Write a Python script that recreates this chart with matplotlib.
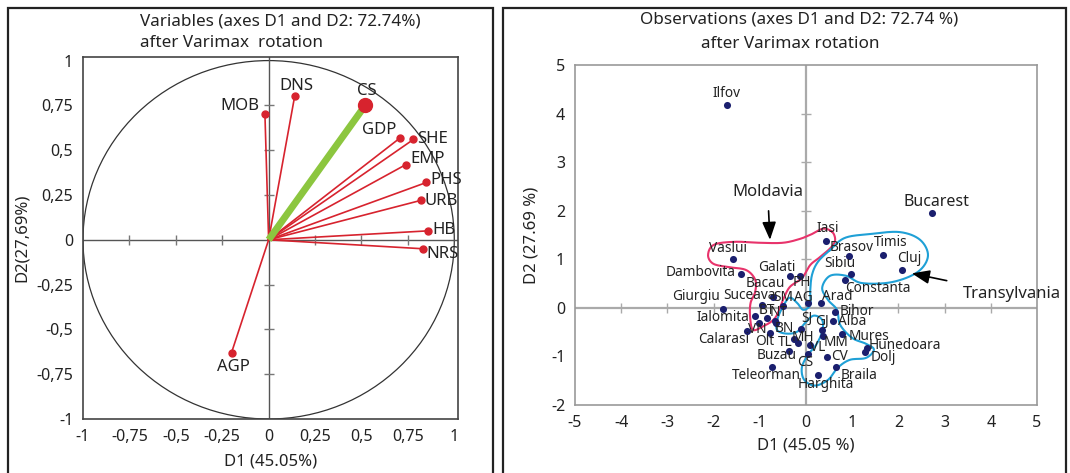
import numpy as np
import matplotlib
matplotlib.use("Agg")
import matplotlib.pyplot as plt
from matplotlib.patches import Circle, Rectangle

plt.rcParams['font.family'] = ['Noto Sans', 'DejaVu Sans']
plt.rcParams['axes.unicode_minus'] = False

# ---------------- data: variables (loadings) ----------------
var_names = ["MOB", "DNS", "GDP", "SHE", "EMP", "PHS", "URB", "HB", "NRS", "AGP"]
var_x = [-0.02, 0.14, 0.71, 0.78, 0.74, 0.85, 0.82, 0.86, 0.83, -0.20]
var_y = [0.70, 0.80, 0.57, 0.56, 0.42, 0.32, 0.22, 0.05, -0.05, -0.63]
# label offsets (pixels) and alignment
var_lab_dx = [-6, 2, -4, 4, 4, 4, 4, 4, 4, 2]
var_lab_dy = [8, 10, 8, 0, 6, 2, -1, 1, -5, -14]
var_lab_ha = ["right", "center", "right", "left", "left", "left", "left", "left", "left", "center"]
cs_name = "CS"
cs_x, cs_y = 0.52, 0.75

left_ticks = [-1, -0.75, -0.5, -0.25, 0, 0.25, 0.5, 0.75, 1]
left_ticklabels = ["-1", "-0,75", "-0,5", "-0,25", "0", "0,25", "0,5", "0,75", "1"]

# ---------------- data: observations (scores) ----------------
obs_names = ["Ilfov", "Bucarest", "Cluj", "Timis", "Brasov", "Sibiu", "Constanta", "Iasi",
             "Vaslui", "Dambovita", "Galati", "PH", "Bacau", "Suceava", "Giurgiu", "SM",
             "AG", "Arad", "Bihor", "Alba", "Ialomita", "BT", "NT", "VN", "Calarasi",
             "Olt", "BN", "SJ", "GJ", "MM", "TL", "MH", "Buzau", "Teleorman", "VL",
             "CS", "CV", "Mures", "Hunedoara", "Dolj", "Braila", "Harghita"]
obs_x = [-1.72, 2.72, 2.08, 1.67, 0.94, 0.97, 0.84, 0.43,
         -1.59, -1.41, -0.35, -0.13, -0.71, -0.96, -1.79, -0.49,
         0.05, 0.32, 0.63, 0.58, -1.10, -0.85, -0.67, -1.01, -1.28,
         -0.78, -0.65, -0.11, 0.34, 0.37, -0.26, -0.17, -0.36, -0.74, 0.09,
         0.05, 0.46, 0.77, 1.31, 1.28, 0.66, 0.27]
obs_y = [4.18, 1.95, 0.78, 1.09, 1.06, 0.70, 0.58, 1.38,
         1.01, 0.70, 0.66, 0.66, 0.23, 0.06, -0.03, 0.03,
         0.10, 0.11, -0.08, -0.28, -0.16, -0.21, -0.28, -0.31, -0.47,
         -0.51, -0.31, -0.44, -0.45, -0.58, -0.65, -0.73, -0.88, -1.22, -0.76,
         -0.95, -1.01, -0.53, -0.82, -0.91, -1.22, -1.38]
obs_dx = [0, 5, 7, 8, 2, -11, 33, 2,
          -5, -40, -13, 2, -8, -12, -27, 0,
          -5, 16, 22, 19, -32, 0, 4, -2, -23,
          -5, 8, 6, 0, 13, -9, 5, -13, -5, 8,
          -3, 12, 27, 38, 18, 23, 7]
obs_dy = [11, 11, 11, 12, 9, 10, -9, 12,
          10, 1, 8, -7, 13, 9, 13, 9,
          6, 6, 0, 0, -2, 8, 9, -7, -9,
          -9, -6, 11, 8, -6, -3, 6, -5, -8, -3,
          -8, 0, -3, 2, -5, -8, -10]

right_xticks = [-5, -4, -3, -2, -1, 0, 1, 2, 3, 4, 5]
right_yticks = [-2, -1, 0, 1, 2, 3, 4, 5]

# region outlines (data units)
moldavia_x = [0.56, 0.37, 0.13, -0.13, -0.50, -1.00, -1.54, -1.99, -2.12, -2.01, -1.69, -1.30,
              -1.10, -1.10, -1.20, -1.21, -1.15, -0.95, -0.67, -0.50, -0.35, -0.09, 0.09,
              0.27, 0.45, 0.59, 0.63]
moldavia_y = [1.57, 1.63, 1.52, 1.42, 1.34, 1.34, 1.36, 1.30, 1.09, 0.91, 0.84, 0.78,
              0.58, 0.33, 0.10, -0.19, -0.45, -0.39, -0.21, 0.16, 0.43, 0.61, 0.88,
              1.02, 1.16, 1.30, 1.43]
transyl_x = [0.52, 0.84, 1.39, 2.03, 2.47, 2.64, 2.42, 1.86, 1.21, 0.87, 0.52, 0.35, 0.48,
             0.67, 0.74, 1.00, 1.30, 1.47, 1.30, 0.95, 0.69, 0.48, 0.19, -0.04, -0.09,
             0.04, 0.22, 0.35, 0.35, 0.17, 0.00, -0.19, -0.43, -0.63, -0.61, -0.48,
             -0.35, -0.19, -0.06, 0.09, 0.09, 0.13, 0.26]
transyl_y = [1.19, 1.44, 1.52, 1.56, 1.40, 1.07, 0.74, 0.53, 0.51, 0.66, 0.66, 0.41, 0.16,
             -0.04, -0.35, -0.62, -0.74, -0.86, -1.03, -1.07, -1.23, -1.48, -1.60, -1.48,
             -1.23, -0.97, -0.76, -0.49, -0.25, -0.16, -0.29, -0.49, -0.53, -0.45, -0.21,
             0.06, 0.21, 0.10, -0.04, 0.06, 0.33, 0.68, 0.95]


def closed_smooth(xs, ys, n=16):
    P = np.column_stack([xs, ys]).astype(float)
    N = len(P)
    t = np.linspace(0, 1, n, endpoint=False)[:, None]
    segs = []
    for i in range(N):
        p0, p1, p2, p3 = P[i - 1], P[i], P[(i + 1) % N], P[(i + 2) % N]
        segs.append(0.5 * (2 * p1 + (-p0 + p2) * t + (2 * p0 - 5 * p1 + 4 * p2 - p3) * t ** 2
                           + (-p0 + 3 * p1 - 3 * p2 + p3) * t ** 3))
    out = np.vstack(segs + [segs[0][:1]])
    return out[:, 0], out[:, 1]


W, H = 1070, 473
fig = plt.figure(figsize=(W / 100, H / 100), dpi=100)

# panel boxes
for (x0, x1) in [(8, 493), (503, 1066)]:
    fig.add_artist(Rectangle((x0 / W, -0.05), (x1 - x0) / W, 1 - 8 / H + 0.05,
                             transform=fig.transFigure, fill=False, lw=1.6, ec='#222222'))

red = '#d7232e'

# ---------------- left panel ----------------
axL = fig.add_axes([83 / W, 1 - 419 / H, (458 - 83) / W, (419 - 57) / H])
axL.set_xlim(-1.0, 1.02)
axL.set_ylim(-1.0, 1.02)
axL.add_patch(Circle((0, 0), 1, fill=False, lw=0.9, ec='#333333'))
axL.axhline(0, color='#555555', lw=1.0, zorder=1)
axL.axvline(0, color='#555555', lw=1.0, zorder=1)
minor = [t for t in left_ticks if t not in (-1, 0, 1)]
axL.plot(minor, [0] * len(minor), ls='none', marker='|', ms=7, mew=1.0, color='#777777')
axL.plot([0] * len(minor), minor, ls='none', marker='_', ms=7, mew=1.0, color='#777777')
for i, nm in enumerate(var_names):
    axL.plot([0, var_x[i]], [0, var_y[i]], color=red, lw=1.2, zorder=3)
    axL.plot(var_x[i], var_y[i], 'o', color=red, ms=5, zorder=4)
    axL.annotate(nm, (var_x[i], var_y[i]), xytext=(var_lab_dx[i], var_lab_dy[i]),
                 textcoords='offset pixels', ha=var_lab_ha[i], va='center', fontsize=12,
                 color='#222222')
axL.plot([0, cs_x], [0, cs_y], color='#8cc63f', lw=5, zorder=3, solid_capstyle='butt')
axL.plot(cs_x, cs_y, 'o', color=red, ms=10, zorder=5)
axL.annotate(cs_name, (cs_x, cs_y), xytext=(2, 14), textcoords='offset pixels',
             ha='center', va='center', fontsize=12, color='#222222')
axL.set_xticks(left_ticks)
axL.set_xticklabels(left_ticklabels)
axL.set_yticks(left_ticks)
axL.set_yticklabels(left_ticklabels)
axL.tick_params(length=0, labelsize=11.5, pad=7, colors='#222222')
for s in axL.spines.values():
    s.set_color('#444444')
    s.set_linewidth(1.2)
axL.set_xlabel("D1 (45.05%)", fontsize=12, labelpad=6, color='#222222')
axL.set_ylabel("D2(27,69%)", fontsize=12, labelpad=5, color='#222222')
fig.text(140 / W, 1 - 21 / H, "Variables (axes D1 and D2: 72.74%)", ha='left', va='center',
         fontsize=12.3, color='#222222')
fig.text(140 / W, 1 - 43 / H, "after Varimax  rotation", ha='left', va='center',
         fontsize=12.3, color='#222222')

# ---------------- right panel ----------------
axR = fig.add_axes([575 / W, 1 - 405 / H, (1037 - 575) / W, (405 - 65) / H])
axR.set_xlim(-5, 5)
axR.set_ylim(-2, 5)
axR.axhline(0, color='#aaaaaa', lw=1.6, zorder=1)
axR.axvline(0, color='#aaaaaa', lw=1.6, zorder=1)
xm = [t for t in right_xticks if t not in (-5, 0, 5)]
ym = [t for t in right_yticks if t not in (-2, 0, 5)]
axR.plot(xm, [0] * len(xm), ls='none', marker='|', ms=7, mew=1.0, color='#aaaaaa')
axR.plot([0] * len(ym), ym, ls='none', marker='_', ms=7, mew=1.0, color='#aaaaaa')
mx, my = closed_smooth(moldavia_x, moldavia_y)
axR.plot(mx, my, color='#e8336b', lw=1.5, zorder=2)
tx, ty = closed_smooth(transyl_x, transyl_y)
axR.plot(tx, ty, color='#1fa0d6', lw=1.5, zorder=2)
axR.scatter(obs_x, obs_y, s=26, color='#1b1f6e', zorder=4, linewidths=0)
for i, nm in enumerate(obs_names):
    fs = 11.5 if nm == "Bucarest" else 9.8
    axR.annotate(nm, (obs_x[i], obs_y[i]), xytext=(obs_dx[i], obs_dy[i]),
                 textcoords='offset pixels', ha='center', va='center', fontsize=fs,
                 color='#222222', zorder=5)
axR.annotate("Moldavia", xy=(-0.78, 1.40), xytext=(-0.83, 2.39), ha='center', va='center',
             fontsize=12, color='#222222',
             arrowprops=dict(arrowstyle='-|>,head_length=0.9,head_width=0.35', color='black',
                             lw=1.2, shrinkA=6, shrinkB=0))
axR.annotate("Transylvania", xy=(2.29, 0.71), xytext=(4.46, 0.28), ha='center', va='center',
             fontsize=12, color='#222222', annotation_clip=False,
             arrowprops=dict(arrowstyle='-|>,head_length=0.9,head_width=0.35', color='black',
                             lw=1.2, shrinkA=10, shrinkB=0))
axR.set_xticks(right_xticks)
axR.set_yticks(right_yticks)
axR.tick_params(length=0, labelsize=11.5, pad=7, colors='#222222')
for s in axR.spines.values():
    s.set_color('#999999')
    s.set_linewidth(1.2)
axR.set_xlabel("D1 (45.05 %)", fontsize=12, labelpad=5, color='#222222')
axR.set_ylabel("D2 (27.69 %)", fontsize=12, labelpad=8, color='#222222')
fig.text(799 / W, 1 - 20 / H, "Observations (axes D1 and D2: 72.74 %)", ha='center',
         va='center', fontsize=12.3, color='#222222')
fig.text(790 / W, 1 - 44 / H, "after Varimax rotation", ha='center', va='center',
         fontsize=12.3, color='#222222')

fig.savefig("out.png", dpi=100)
